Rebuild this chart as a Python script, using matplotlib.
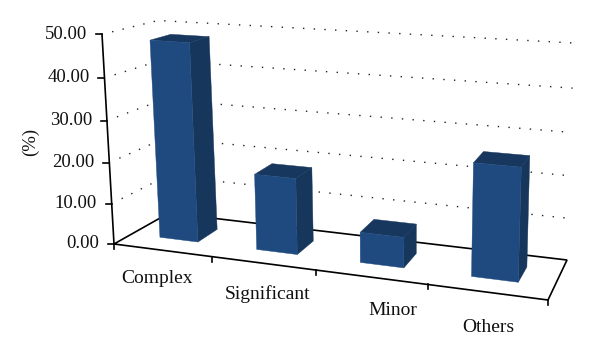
import numpy as np
import matplotlib
matplotlib.use("Agg")
import matplotlib.pyplot as plt
from matplotlib.patches import Polygon

categories = ["Complex", "Significant", "Minor", "Others"]
values = [48.0, 18.3, 7.2, 25.9]
y_ticks = [0, 10, 20, 30, 40, 50]
y_tick_labels = ["0.00", "10.00", "20.00", "30.00", "40.00", "50.00"]
y_label = "(%)"

# Projection of the 3D box onto the figure (pixel coordinates)
FBL, FTL = np.array([114, 244.0]), np.array([102, 34.3])
BBL, BTL = np.array([169, 213.0]), np.array([158, 20.5])
FBR, FTR = np.array([548, 300.0]), np.array([556, 64.0])
BBR, BTR = np.array([567, 260.0]), np.array([574, 43.0])
W_X, W_Y = 1.15, 1.05
Y_MAX = 50.0
N = len(categories)
BAR_W = 0.4
Z_FRONT, Z_BACK = 0.33, 0.72
FRONT_C, SIDE_C, TOP_C = "#1F4A80", "#16365C", "#17375E"
LABEL_OFFSET = [(-5, 28), (5, 31), (22, 33), (2, 35)]


def proj(x, y, z):
    u = x / N
    v = y / Y_MAX
    t = u / (u + W_X * (1 - u))
    h = v / (v + W_Y * (1 - v))
    fb = FBL + (FBR - FBL) * t
    ft = FTL + (FTR - FTL) * t
    bb = BBL + (BBR - BBL) * t
    bt = BTL + (BTR - BTL) * t
    f = fb + (ft - fb) * h
    b = bb + (bt - bb) * h
    return f + (b - f) * z


plt.rcParams["font.family"] = ["Liberation Serif", "DejaVu Serif"]
fig = plt.figure(figsize=(6, 3.59), dpi=100)
ax = fig.add_axes([0, 0, 1, 1])
ax.set_xlim(0, 600)
ax.set_ylim(359, 0)
ax.axis("off")

# dotted gridlines: left wall then back wall
for yv in y_ticks[1:]:
    pts = [proj(0, yv, 0.18), proj(0, yv, 1)] + [proj(x, yv, 1) for x in np.linspace(0, N, 9)[1:]]
    pts = np.array(pts)
    ax.plot(pts[:, 0], pts[:, 1], color="#222222", lw=1.0,
            linestyle=(0, (1, 6.7)), zorder=1)

# floor and axes
floor = [proj(0, 0, 0), proj(N, 0, 0), proj(N, 0, 1), proj(0, 0, 1), proj(0, 0, 0)]
floor = np.array(floor)
ax.plot(floor[:, 0], floor[:, 1], color="black", lw=1.2, zorder=2, solid_joinstyle="miter")
axis_pts = np.array([proj(0, yv, 0) for yv in y_ticks])
ax.plot(axis_pts[:, 0], axis_pts[:, 1], color="black", lw=1.2, zorder=2)

for yv, lab in zip(y_ticks, y_tick_labels):
    p = proj(0, yv, 0)
    ax.plot([p[0] - 6, p[0]], [p[1], p[1]], color="black", lw=1.2, zorder=2)
    ax.text(p[0] - 15, p[1], lab, ha="right", va="center", fontsize=13.5, color="#111111")

for i in range(N + 1):
    p = proj(i, 0, 0)
    ax.plot([p[0], p[0]], [p[1], p[1] + 5], color="black", lw=1.2, zorder=2)

# bars
for i, (cat, val, off) in enumerate(zip(categories, values, LABEL_OFFSET)):
    x0 = i + 0.5 - BAR_W / 2
    x1 = i + 0.5 + BAR_W / 2
    top = [proj(x0, val, Z_FRONT), proj(x1, val, Z_FRONT), proj(x1, val, Z_BACK), proj(x0, val, Z_BACK)]
    side = [proj(x1, 0, Z_FRONT), proj(x1, val, Z_FRONT), proj(x1, val, Z_BACK), proj(x1, 0, Z_BACK)]
    front = [proj(x0, 0, Z_FRONT), proj(x1, 0, Z_FRONT), proj(x1, val, Z_FRONT), proj(x0, val, Z_FRONT)]
    for poly, c in ((side, SIDE_C), (top, TOP_C), (front, FRONT_C)):
        ax.add_patch(Polygon(poly, closed=True, facecolor=c, edgecolor=c, lw=0.3, zorder=3))
    a = proj(i + 0.5, 0, 0)
    ax.text(a[0] + off[0], a[1] + off[1], cat, ha="center", va="center",
            fontsize=14, color="#111111")

ax.text(30, 142, y_label, rotation=90, ha="center", va="center", fontsize=13.5, color="#111111")

fig.savefig("out.png", dpi=100)
